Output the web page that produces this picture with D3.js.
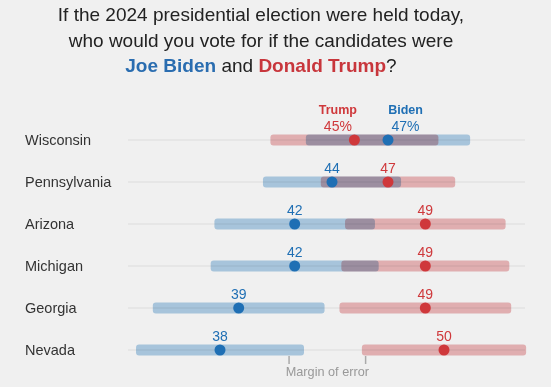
<!DOCTYPE html>
<html>
<head>
<meta charset="utf-8">
<script src="https://cdn.jsdelivr.net/npm/d3@7"></script>
<style>
body{margin:0;background:#f0f0f0;}
svg{display:block;font-family:"Liberation Sans",Arial,sans-serif;}
.bar{mix-blend-mode:multiply;}
</style>
</head>
<body>
<div id="chart"></div>
<script>
var states = ["Wisconsin","Pennsylvania","Arizona","Michigan","Georgia","Nevada"]
var biden = [47,44,42,42,39,38]
var trump = [45.2,47,49,49,49,50]
var bidenMoe = [4.4,3.7,4.3,4.5,4.6,4.5]
var trumpMoe = [4.5,3.6,4.3,4.5,4.6,4.4]
var moeTicks = [41.7,45.8]

var width = 551, height = 387
var blue = "#1f6fb4", red = "#cf383b"

var svg = d3.select("#chart").append("svg").attr("width",width).attr("height",height)
svg.append("rect").attr("width",width).attr("height",height).attr("fill","#f0f0f0")

// title
var title = svg.append("text").attr("text-anchor","middle").attr("font-size","19px").attr("fill","#222")
title.append("tspan").attr("x",261).attr("y",21).text("If the 2024 presidential election were held today,")
title.append("tspan").attr("x",261).attr("y",46.5).text("who would you vote for if the candidates were")
var l3 = title.append("tspan").attr("x",261).attr("y",72)
l3.append("tspan").attr("font-weight","bold").attr("fill","#2a6db0").text("Joe Biden")
l3.append("tspan").text(" and ")
l3.append("tspan").attr("font-weight","bold").attr("fill","#c8363c").text("Donald Trump")
l3.append("tspan").text("?")

var x = d3.scaleLinear().domain([33.07,54.34]).range([128,525])
var y = d3.scalePoint().domain(states).range([140,350])

var rows = svg.selectAll(".row").data(states).enter().append("g")
    .attr("class","row")
    .attr("transform",function(d){ return "translate(0,"+y(d)+")" })

rows.append("line")
    .attr("x1",x.range()[0]).attr("x2",x.range()[1])
    .attr("stroke","#dcdcdc").attr("stroke-width",1)

rows.append("text")
    .attr("x",25).attr("y",5)
    .attr("font-size","14.5px").attr("fill","#333")
    .text(function(d){ return d })

//bars
rows.append("rect").attr("class","bar")
    .attr("x",function(d,i){ return x(biden[i]-bidenMoe[i]) })
    .attr("width",function(d,i){ return x(biden[i]+bidenMoe[i])-x(biden[i]-bidenMoe[i]) })
    .attr("y",-5.5).attr("height",11).attr("rx",3)
    .attr("fill","#b2d1e9")
rows.append("rect").attr("class","bar")
    .attr("x",function(d,i){ return x(trump[i]-trumpMoe[i]) })
    .attr("width",function(d,i){ return x(trump[i]+trumpMoe[i])-x(trump[i]-trumpMoe[i]) })
    .attr("y",-5.5).attr("height",11).attr("rx",3)
    .attr("fill","#eeb9bb")

//dots
rows.append("circle")
    .attr("cx",function(d,i){ return x(biden[i]) })
    .attr("r",5.5).attr("fill",blue)
rows.append("circle")
    .attr("cx",function(d,i){ return x(trump[i]) })
    .attr("r",5.5).attr("fill",red)

//value labels, first row pushed apart so they dont collide
var bLab = rows.append("text")
    .attr("x",function(d,i){ return i==0 ? x(biden[i])+3.5 : x(biden[i]) })
    .attr("y",-9)
    .attr("text-anchor",function(d,i){ return i==0 ? "start" : "middle" })
    .attr("font-size","14px").attr("fill",blue)
    .text(function(d,i){ return Math.round(biden[i]) + (i==0 ? "%" : "") })
var tLab = rows.append("text")
    .attr("x",function(d,i){ return i==0 ? x(trump[i])-2.5 : x(trump[i]) })
    .attr("y",-9)
    .attr("text-anchor",function(d,i){ return i==0 ? "end" : "middle" })
    .attr("font-size","14px").attr("fill",red)
    .text(function(d,i){ return Math.round(trump[i]) + (i==0 ? "%" : "") })

// candidate names over the first row labels
var tb = tLab.nodes()[0].getBBox(), bb = bLab.nodes()[0].getBBox()
var first = svg.append("g").attr("transform","translate(0,"+y(states[0])+")")
first.append("text").attr("x",tb.x+tb.width/2).attr("y",-26)
    .attr("text-anchor","middle").attr("font-size","12.5px").attr("font-weight","bold").attr("fill",red)
    .text("Trump")
first.append("text").attr("x",bb.x+bb.width/2).attr("y",-26)
    .attr("text-anchor","middle").attr("font-size","12.5px").attr("font-weight","bold").attr("fill",blue)
    .text("Biden")

// margin of error note
var last = y(states[states.length-1])
svg.selectAll(".moetick").data(moeTicks).enter().append("line")
    .attr("x1",function(d){ return x(d) }).attr("x2",function(d){ return x(d) })
    .attr("y1",last+6).attr("y2",last+14)
    .attr("stroke","#aaa").attr("stroke-width",1.5)
svg.append("text")
    .attr("x",x(d3.mean(moeTicks))).attr("y",last+26)
    .attr("text-anchor","middle").attr("font-size","12.7px").attr("fill","#999")
    .text("Margin of error")
</script>
</body>
</html>
